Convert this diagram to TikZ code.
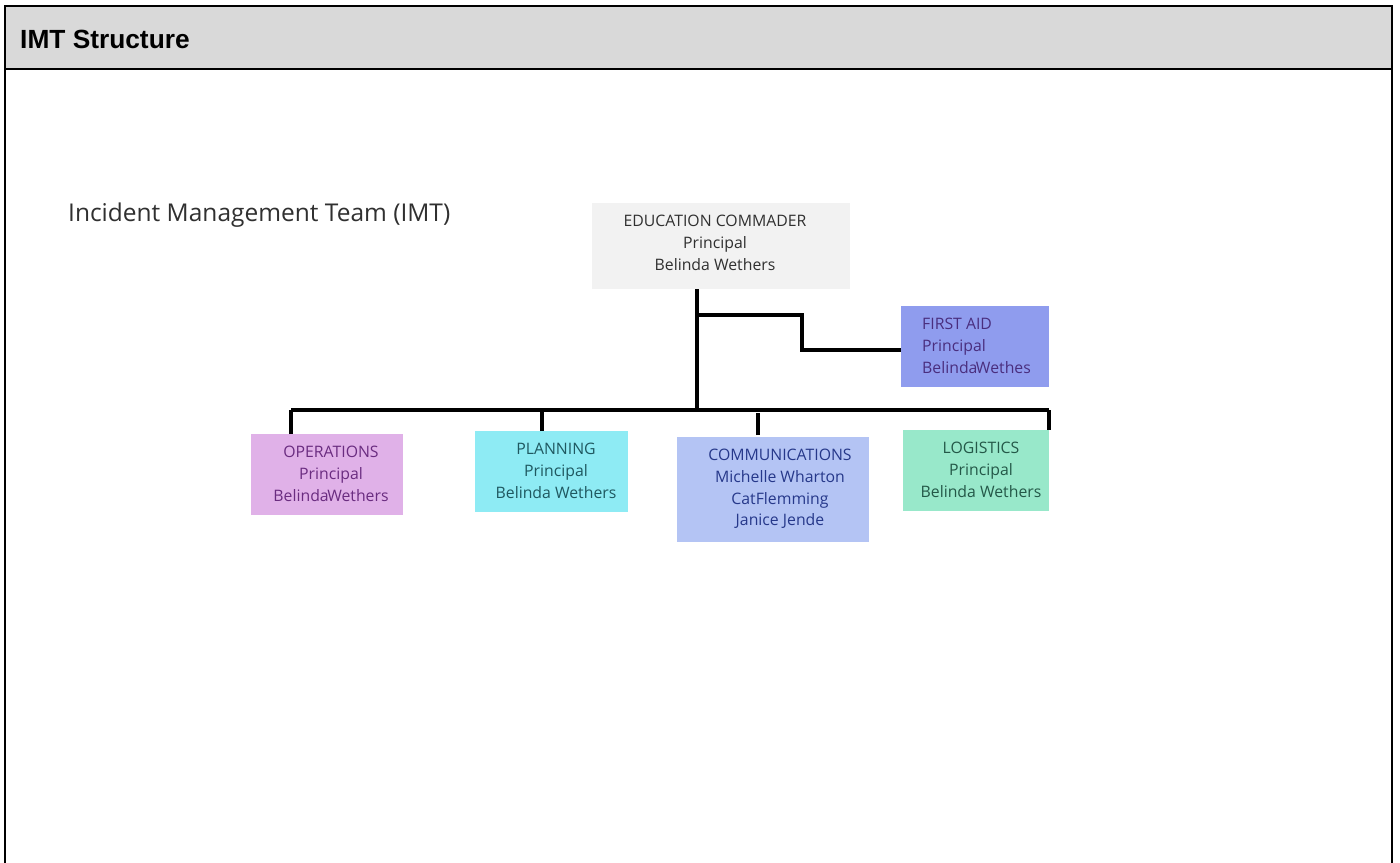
\documentclass[tikz,border=0pt]{standalone}
\usepackage{fontspec}
\setmainfont{Open Sans}
\newfontfamily\headfont{Liberation Sans}
\definecolor{hdr}{HTML}{D9D9D9}
\definecolor{edufill}{HTML}{F2F2F2}
\definecolor{fafill}{HTML}{8F9CEE}
\definecolor{opfill}{HTML}{E0B1E8}
\definecolor{plfill}{HTML}{8EEBF4}
\definecolor{cmfill}{HTML}{B4C4F4}
\definecolor{lgfill}{HTML}{98E8CA}
\definecolor{edutxt}{HTML}{303030}
\definecolor{fatxt}{HTML}{4A2E7E}
\definecolor{optxt}{HTML}{6A2C80}
\definecolor{pltxt}{HTML}{1F5860}
\definecolor{cmtxt}{HTML}{26388A}
\definecolor{lgtxt}{HTML}{245848}
\tikzset{
  boxtext/.style={align=center, font=\fontsize{15.8}{21.7}\selectfont, inner sep=0pt},
  link/.style={line width=3.2pt, black},
}
\begin{document}
\begin{tikzpicture}[x=1pt,y=-1pt]
\useasboundingbox (0,0) rectangle (1400,862);
\fill[white] (0,0) rectangle (1400,862);
% header
\fill[hdr] (5,6) rectangle (1392,69);
\draw[line width=2pt] (5,870) -- (5,6) -- (1392,6) -- (1392,870);
\draw[line width=2pt] (5,69) -- (1392,69);
\node[anchor=base west, inner sep=0pt, font=\headfont\bfseries\fontsize{26.3}{30}\selectfont] (title) at (20,48) {IMT Structure};
\node[anchor=base west, inner sep=0pt, font=\fontsize{24.5}{30}\selectfont, text=edutxt] (imt) at (68,221) {Incident Management Team (IMT)};
% boxes
\fill[edufill] (592,203) rectangle (850,289);
\coordinate (edu) at (697,289);
\node[boxtext, text=edutxt, anchor=north] (edut) at (715,215) {EDUCATION COMMADER\\Principal\\Belinda Wethers};
\fill[fafill] (901,306) rectangle (1049,387);
\coordinate (fa) at (901,350);
\node[boxtext, align=left, text=fatxt, anchor=north west] (fat) at (922,318) {FIRST AID\\Principal\\Belinda\hspace{-1.5pt}Wethes};
\fill[opfill] (251,434) rectangle (403,515);
\coordinate (op) at (291,434);
\node[boxtext, text=optxt, anchor=north] (opt) at (331,446) {OPERATIONS\\Principal\\Belinda\hspace{-1.5pt}Wethers};
\fill[plfill] (475,431) rectangle (628,512);
\coordinate (pl) at (542,431);
\node[boxtext, text=pltxt, anchor=north] (plt) at (556,443) {PLANNING\\Principal\\Belinda Wethers};
\fill[cmfill] (677,437) rectangle (869,542);
\coordinate (cm) at (758,435);
\node[boxtext, text=cmtxt, anchor=north] (cmt) at (780,449) {COMMUNICATIONS\\Michelle Wharton\\CatFlemming\\Janice Jende};
\fill[lgfill] (903,430) rectangle (1049,511);
\coordinate (lg) at (1049,430);
\node[boxtext, text=lgtxt, anchor=north] (lgt) at (981,442) {LOGISTICS\\Principal\\Belinda Wethers};
% connectors
\coordinate (bus) at (697,410);
\coordinate (j1) at (697,315);
\draw[link] (edu) -- (bus);
\draw[link] (j1) -- (802,315) |- (fa);
\draw[link] (291,410) -- (1049,410);
\draw[link] (op) -- (op |- bus);
\draw[link] (pl) -- (pl |- bus);
\draw[link] (cm) -- (758,413);
\draw[link] (lg) -- (lg |- bus);
\end{tikzpicture}
\end{document}
